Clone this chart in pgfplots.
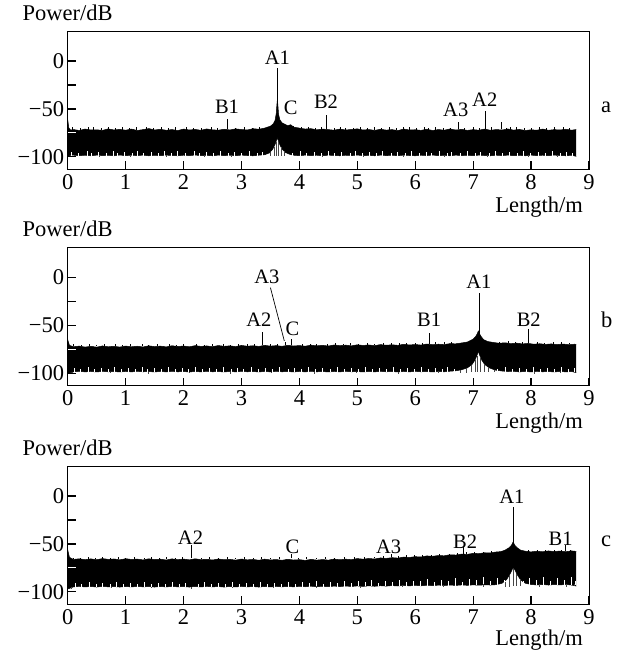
\documentclass[border=0pt]{standalone}
\usepackage{pgfplots}
\pgfplotsset{compat=1.18}
\usepgfplotslibrary{fillbetween}
\usepackage{fontspec}
\setmainfont{Liberation Serif}

\pgfplotsset{
  panel/.style={
    scale only axis, width=521.3pt, height=138.3pt,
    xmin=0, xmax=9, ymin=-113, ymax=31.3,
    xtick={0,1,2,3,4,5,6,7,8,9}, xticklabels={0,1,2,3,4,5,6,7,8,9},
    ytick={-100,-50,0}, yticklabels={−100,−50,0},
    minor ytick={-25},
    extra y ticks={-75}, extra y tick labels={},
    extra y tick style={tick style={white, line width=1.2pt}},
    tick align=inside, xtick pos=bottom, ytick pos=left,
    major tick length=8pt, minor tick length=8pt,
    every tick/.style={black, line width=1.2pt},
    axis line style={line width=0.9pt},
    ticklabel style={font=\fontsize{22.5}{24}\selectfont},
    xticklabel style={yshift=-1.5pt},
    axis on top, clip=false,
  },
  spk/.style={black, line width=0.8pt},
  env/.style={black, line width=0.5pt},
  % short vertical strokes: black hairs on the top edge, white gaps and grey hairs at the bottom
  grass/.style={draw=none, mark=none, forget plot,
    error bars/.cd, y dir=plus, y explicit, error mark=none,
    error bar style={draw=black, line width=0.6pt}},
  notch/.style={draw=none, mark=none, forget plot,
    error bars/.cd, y dir=plus, y explicit, error mark=none,
    error bar style={draw=white, line width=0.6pt}},
  fringe/.style={draw=none, mark=none, forget plot,
    error bars/.cd, y dir=minus, y explicit, error mark=none,
    error bar style={draw=gray!55!black, line width=0.6pt}},
}
\tikzset{
  lab/.style={font=\fontsize{20.5}{22}\selectfont, inner sep=0pt, anchor=center},
  axlab/.style={font=\fontsize{22.5}{24}\selectfont, inner sep=0pt},
}

\begin{document}
\begin{tikzpicture}

% ---------------- panel a ----------------
\begin{axis}[panel, at={(67.7pt,-31pt)}, anchor=north west]
\addplot[env, name path=ua] coordinates {
(0,-61) (0.02,-70) (0.05,-72) (0.1,-71.5) (0.2,-72.5) (0.3,-71) (0.4,-72) (0.5,-71.8) (0.6,-72.4) (0.7,-70.8)
(0.8,-72) (0.9,-71.3) (1.0,-72.2) (1.1,-71) (1.2,-72.5) (1.3,-71.6) (1.4,-70.5) (1.5,-72) (1.6,-71.2) (1.7,-72.3)
(1.8,-71.5) (1.9,-72.6) (2.0,-71) (2.1,-72) (2.2,-71.4) (2.3,-72.3) (2.4,-70.9) (2.5,-71.8) (2.6,-72.2) (2.7,-71.2)
(2.8,-71.9) (2.9,-70.8) (3.0,-71.5) (3.1,-72) (3.2,-70.6) (3.3,-71.2) (3.4,-70) (3.45,-69) (3.5,-68) (3.55,-65.5)
(3.58,-62) (3.6,-55) (3.61,-47) (3.62,-40) (3.63,-47) (3.64,-55) (3.66,-61) (3.7,-64.5) (3.75,-66) (3.8,-67.5)
(3.85,-66.5) (3.9,-69) (4.0,-70) (4.1,-71) (4.2,-70.6) (4.3,-71.8) (4.4,-71) (4.5,-71.6) (4.6,-72.2) (4.7,-71)
(4.8,-72) (4.9,-71.4) (5.0,-70.8) (5.1,-72) (5.2,-71.5) (5.3,-72.4) (5.4,-71.2) (5.5,-72.1) (5.6,-71.6) (5.7,-72.6)
(5.8,-71) (5.9,-72) (6.0,-71.7) (6.1,-72.4) (6.2,-71.2) (6.3,-72.5) (6.4,-71.5) (6.5,-72.2) (6.6,-70.9) (6.7,-72)
(6.8,-71.3) (6.9,-72.4) (7.0,-71.6) (7.1,-72.2) (7.2,-71) (7.3,-72.3) (7.4,-71.5) (7.5,-72) (7.6,-70.9) (7.7,-72.1)
(7.8,-71.4) (7.9,-72.5) (8.0,-71.8) (8.1,-72.2) (8.2,-71) (8.3,-72.3) (8.4,-71.6) (8.5,-72) (8.6,-71.2) (8.7,-72.2)
(8.78,-71.5)};
\addplot[env, name path=la] coordinates {
(0,-100) (0.03,-98.5) (0.1,-98.2) (0.2,-98.8) (0.3,-98.3) (0.4,-98.9) (0.5,-98.2) (0.6,-98.7) (0.7,-98.4) (0.8,-98.9)
(0.9,-98.1) (1.0,-98.8) (1.1,-98.3) (1.2,-98.7) (1.3,-98.2) (1.4,-98.9) (1.5,-98.4) (1.6,-98.8) (1.7,-98.2) (1.8,-98.6)
(1.9,-98.9) (2.0,-98.3) (2.1,-98.7) (2.2,-98.1) (2.3,-98.8) (2.4,-98.4) (2.5,-98.9) (2.6,-98.2) (2.7,-98.7) (2.8,-98.3)
(2.9,-98.8) (3.0,-98.2) (3.1,-98.6) (3.2,-98.9) (3.3,-98.3) (3.4,-97.8) (3.48,-96) (3.54,-92) (3.58,-87) (3.61,-82)
(3.62,-79) (3.63,-82) (3.66,-87) (3.7,-92) (3.76,-95.5) (3.84,-97.5) (3.9,-98.3) (4.0,-98.8) (4.1,-98.2) (4.2,-98.7)
(4.3,-98.3) (4.4,-98.9) (4.5,-98.2) (4.6,-98.6) (4.7,-98.9) (4.8,-98.3) (4.9,-98.7) (5.0,-98.1) (5.1,-98.8) (5.2,-98.4)
(5.3,-98.9) (5.4,-98.2) (5.5,-98.7) (5.6,-98.3) (5.7,-98.8) (5.8,-98.2) (5.9,-98.6) (6.0,-98.9) (6.1,-98.3) (6.2,-98.7)
(6.3,-98.1) (6.4,-98.8) (6.5,-98.4) (6.6,-98.9) (6.7,-98.2) (6.8,-98.7) (6.9,-98.3) (7.0,-98.8) (7.1,-98.2) (7.2,-98.6)
(7.3,-98.9) (7.4,-98.3) (7.5,-98.7) (7.6,-98.2) (7.7,-98.8) (7.8,-98.4) (7.9,-98.9) (8.0,-98.2) (8.1,-98.7) (8.2,-98.3)
(8.3,-98.8) (8.4,-98.2) (8.5,-98.6) (8.6,-98.9) (8.7,-98.3) (8.78,-99.5)};
\addplot[black] fill between[of=ua and la];
\addplot[grass] coordinates {
(0.08,-71.5) +- (0,2.5) (0.22,-71.5) +- (0,1.8) (0.35,-71.5) +- (0,2.2) (0.45,-71.5) +- (0,3) (0.58,-71.5) +- (0,1.6)
(0.7,-71.5) +- (0,2.4) (0.83,-71.5) +- (0,1.9) (0.95,-71.5) +- (0,2.6) (1.07,-71.5) +- (0,1.7) (1.18,-71.5) +- (0,2.2)
(1.35,-71.5) +- (0,2.8) (1.47,-71.5) +- (0,1.5) (1.62,-71.5) +- (0,2.3) (1.74,-71.5) +- (0,1.8) (1.86,-71.5) +- (0,2.5)
(2.05,-71.5) +- (0,3) (2.17,-71.5) +- (0,1.7) (2.3,-71.5) +- (0,2.1) (2.48,-71.5) +- (0,2.6) (2.58,-71.5) +- (0,1.6)
(2.9,-71.5) +- (0,2) (3.05,-71.5) +- (0,2.8) (3.18,-71.5) +- (0,1.9) (3.3,-71.5) +- (0,2.2) (3.9,-70) +- (0,2.4)
(4.03,-71) +- (0,1.8) (4.15,-71.5) +- (0,2.6) (4.28,-71.5) +- (0,1.7) (4.38,-71.5) +- (0,2.2) (4.6,-71.5) +- (0,1.9)
(4.7,-71.5) +- (0,2.5) (4.8,-71.5) +- (0,2.1) (4.93,-71.5) +- (0,1.6) (5.05,-71.5) +- (0,2.3) (5.18,-71.5) +- (0,1.8)
(5.3,-71.5) +- (0,3) (5.42,-71.5) +- (0,1.7) (5.55,-71.5) +- (0,2.2) (5.68,-71.5) +- (0,1.9) (5.8,-71.5) +- (0,2.4)
(5.9,-71.5) +- (0,2.2) (6.02,-71.5) +- (0,1.6) (6.15,-71.5) +- (0,2.5) (6.22,-71.5) +- (0,1.8) (6.35,-71.5) +- (0,2.6)
(6.48,-71.5) +- (0,1.7) (6.6,-71.5) +- (0,2.1) (6.85,-71.5) +- (0,1.8) (7.0,-71.5) +- (0,2.3) (7.1,-71.5) +- (0,1.6)
(7.32,-71.5) +- (0,2.4) (7.58,-71.5) +- (0,1.9) (7.65,-71.5) +- (0,2.2) (7.75,-71.5) +- (0,2.7) (7.88,-71.5) +- (0,1.6)
(8.0,-71.5) +- (0,2.1) (8.15,-71.5) +- (0,2.4) (8.27,-71.5) +- (0,1.7) (8.4,-71.5) +- (0,2.2) (8.55,-71.5) +- (0,2.6)
(8.66,-71.5) +- (0,1.8)};
\addplot[notch] coordinates {
(0.07,-99.2) +- (0,4.5) (0.19,-99.2) +- (0,3.2) (0.33,-99.2) +- (0,5.5) (0.41,-99.2) +- (0,2.8) (0.52,-99.2) +- (0,4.2)
(0.66,-99.2) +- (0,3.5) (0.78,-99.2) +- (0,5.8) (0.85,-99.2) +- (0,3) (0.97,-99.2) +- (0,4.6) (1.12,-99.2) +- (0,3.3)
(1.2,-99.2) +- (0,5.2) (1.31,-99.2) +- (0,2.9) (1.44,-99.2) +- (0,4.4) (1.57,-99.2) +- (0,3.6) (1.66,-99.2) +- (0,5.6)
(1.79,-99.2) +- (0,3.1) (1.9,-99.2) +- (0,4.8) (2.03,-99.2) +- (0,3.4) (2.18,-99.2) +- (0,5.3) (2.27,-99.2) +- (0,2.8)
(2.4,-99.2) +- (0,4.5) (2.52,-99.2) +- (0,3.7) (2.64,-99.2) +- (0,5.5) (2.78,-99.2) +- (0,3.2) (2.88,-99.2) +- (0,4.3)
(2.99,-99.2) +- (0,3.5) (3.13,-99.2) +- (0,5.1) (3.27,-99.2) +- (0,3) (3.36,-99.2) +- (0,4.2) (3.88,-99.2) +- (0,3.3)
(4.02,-99.2) +- (0,5) (4.12,-99.2) +- (0,3.1) (4.26,-99.2) +- (0,4.7) (4.37,-99.2) +- (0,3.4) (4.5,-99.2) +- (0,5.6)
(4.61,-99.2) +- (0,2.9) (4.73,-99.2) +- (0,4.4) (4.88,-99.2) +- (0,3.6) (4.97,-99.2) +- (0,5.3) (5.08,-99.2) +- (0,3.1)
(5.21,-99.2) +- (0,4.6) (5.32,-99.2) +- (0,3.3) (5.44,-99.2) +- (0,5.5) (5.58,-99.2) +- (0,3) (5.69,-99.2) +- (0,4.3)
(5.83,-99.2) +- (0,3.7) (5.94,-99.2) +- (0,5.2) (6.07,-99.2) +- (0,3.2) (6.19,-99.2) +- (0,4.5) (6.28,-99.2) +- (0,3.4)
(6.42,-99.2) +- (0,5.7) (6.55,-99.2) +- (0,2.9) (6.63,-99.2) +- (0,4.6) (6.77,-99.2) +- (0,3.5) (6.9,-99.2) +- (0,5.1)
(7.03,-99.2) +- (0,3.3) (7.12,-99.2) +- (0,4.4) (7.28,-99.2) +- (0,3.6) (7.38,-99.2) +- (0,5.4) (7.5,-99.2) +- (0,3)
(7.63,-99.2) +- (0,4.7) (7.77,-99.2) +- (0,3.2) (7.86,-99.2) +- (0,5.3) (7.99,-99.2) +- (0,3.4) (8.12,-99.2) +- (0,4.5)
(8.24,-99.2) +- (0,3.1) (8.36,-99.2) +- (0,5.6) (8.5,-99.2) +- (0,3.3) (8.6,-99.2) +- (0,4.4) (8.72,-99.2) +- (0,3.7)};
\addplot[fringe] coordinates {
(0.12,-98.5) +- (0,1.8) (0.55,-98.5) +- (0,2) (1.08,-98.5) +- (0,1.6) (1.7,-98.5) +- (0,2) (2.35,-98.5) +- (0,1.7)
(2.82,-98.5) +- (0,2) (3.5,-95) +- (0,4.5) (3.56,-90) +- (0,9) (3.6,-84) +- (0,15.5) (3.64,-84) +- (0,15)
(3.68,-90) +- (0,9.2) (3.74,-94) +- (0,5.3) (4.4,-98.5) +- (0,1.8) (5.1,-98.5) +- (0,2) (5.8,-98.5) +- (0,1.6)
(6.5,-98.5) +- (0,2) (7.25,-98.5) +- (0,1.7) (7.95,-98.5) +- (0,2) (8.45,-98.5) +- (0,1.8)};
% labelled peaks
\addplot[spk] coordinates {(2.75,-71) (2.75,-60)};
\addplot[spk] coordinates {(3.62,-45) (3.62,-7.7)};
\addplot[spk] coordinates {(4.47,-71) (4.47,-56.5)};
\addplot[spk] coordinates {(6.75,-71) (6.75,-63.8)};
\addplot[spk] coordinates {(7.22,-71) (7.22,-52)};
\addplot[spk] coordinates {(7.48,-71) (7.48,-63.8)};
\node[lab] at (axis cs:3.62,3.7) {A1};
\node[lab] at (axis cs:2.75,-47.8) {B1};
\node[lab] at (axis cs:3.85,-48.5) {C};
\node[lab] at (axis cs:4.46,-42.5) {B2};
\node[lab] at (axis cs:6.70,-50.7) {A3};
\node[lab] at (axis cs:7.20,-40) {A2};
\node[axlab, anchor=base] at (axis description cs:0,1) [yshift=10.5pt] {Power/dB};
\node[axlab, anchor=base east] at (axis description cs:1,0) [xshift=-6pt, yshift=-43.5pt] {Length/m};
\node[axlab, anchor=base west] at (axis description cs:1,0.41) [xshift=12pt] {a};
\end{axis}

% ---------------- panel b ----------------
\begin{axis}[panel, at={(67.7pt,-247.3pt)}, anchor=north west]
\addplot[env, name path=ub] coordinates {
(0,-65) (0.03,-71) (0.1,-72.4) (0.2,-71.8) (0.3,-72.8) (0.4,-72) (0.5,-72.9) (0.6,-71.6) (0.7,-72.5) (0.8,-72)
(0.9,-72.8) (1.0,-71.7) (1.1,-72.5) (1.2,-71.9) (1.3,-72.7) (1.4,-71.5) (1.5,-72.3) (1.6,-71.8) (1.7,-72.6) (1.8,-71.4)
(1.9,-72.2) (2.0,-71.7) (2.1,-72.5) (2.2,-71.3) (2.3,-72.1) (2.4,-71.6) (2.5,-72.4) (2.6,-71.2) (2.7,-72) (2.8,-71.5)
(2.9,-72.3) (3.0,-71.1) (3.1,-71.9) (3.2,-71.4) (3.3,-72.1) (3.4,-71) (3.5,-71.8) (3.6,-71.3) (3.7,-72) (3.8,-70.9)
(3.9,-71.7) (4.0,-71.2) (4.1,-71.9) (4.2,-70.8) (4.3,-71.5) (4.4,-71) (4.5,-71.7) (4.6,-70.6) (4.7,-71.3) (4.8,-70.8)
(4.9,-71.5) (5.0,-70.4) (5.1,-71.1) (5.2,-70.6) (5.3,-71.3) (5.4,-70.2) (5.5,-70.9) (5.6,-70.4) (5.7,-71) (5.8,-69.9)
(5.9,-70.6) (6.0,-70.1) (6.1,-70.7) (6.2,-69.6) (6.3,-70.3) (6.4,-69.8) (6.5,-70.2) (6.6,-69.2) (6.7,-69.4) (6.8,-68.5)
(6.9,-67.5) (6.95,-66) (7.0,-64.5) (7.04,-62) (7.07,-59) (7.09,-56) (7.11,-59) (7.14,-62) (7.18,-65) (7.25,-67)
(7.35,-68) (7.45,-68.8) (7.55,-68.3) (7.65,-69.2) (7.75,-68.7) (7.85,-69.5) (7.95,-69) (8.05,-69.8) (8.15,-69.3) (8.25,-70)
(8.35,-69.5) (8.45,-70.2) (8.55,-69.6) (8.65,-70.3) (8.75,-69.8) (8.78,-70.2)};
\addplot[env, name path=lb] coordinates {
(0,-100.5) (0.05,-99.5) (0.1,-98.6) (0.2,-98.1) (0.3,-98.7) (0.4,-98.2) (0.5,-98.8) (0.6,-98.1) (0.7,-98.6) (0.8,-98.3)
(0.9,-98.8) (1.0,-98.2) (1.1,-98.7) (1.2,-98.1) (1.3,-98.6) (1.4,-98.3) (1.5,-98.8) (1.6,-98.2) (1.7,-98.7) (1.8,-98.1)
(1.9,-98.6) (2.0,-98.3) (2.1,-98.8) (2.2,-98.2) (2.3,-98.7) (2.4,-98.1) (2.5,-98.6) (2.6,-98.3) (2.7,-98.8) (2.8,-98.2)
(2.9,-98.7) (3.0,-98.1) (3.1,-98.6) (3.2,-98.3) (3.3,-98.8) (3.4,-98.2) (3.5,-98.7) (3.6,-98.1) (3.7,-98.6) (3.8,-98.3)
(3.9,-98.8) (4.0,-98.2) (4.1,-98.7) (4.2,-98.1) (4.3,-98.6) (4.4,-98.3) (4.5,-98.8) (4.6,-98.2) (4.7,-98.7) (4.8,-98.1)
(4.9,-98.6) (5.0,-98.3) (5.1,-98.8) (5.2,-98.2) (5.3,-98.7) (5.4,-98.1) (5.5,-98.6) (5.6,-98.3) (5.7,-98.8) (5.8,-98.2)
(5.9,-98.7) (6.0,-98.1) (6.1,-98.6) (6.2,-98.3) (6.3,-98.8) (6.4,-98.2) (6.5,-98.6) (6.6,-98) (6.7,-97.5) (6.8,-96.5)
(6.9,-94.5) (6.98,-91) (7.03,-86.5) (7.07,-81) (7.09,-77) (7.11,-81) (7.15,-86.5) (7.2,-91) (7.28,-94.5) (7.38,-96.8)
(7.5,-97.8) (7.6,-98.3) (7.7,-98.1) (7.8,-98.7) (7.9,-98.2) (8.0,-98.8) (8.1,-98.1) (8.2,-98.6) (8.3,-98.3) (8.4,-98.8)
(8.5,-98.2) (8.6,-98.7) (8.7,-98.3) (8.78,-99.5)};
\addplot[black] fill between[of=ub and lb];
\addplot[grass] coordinates {
(0.1,-72) +- (0,2) (0.24,-72) +- (0,1.6) (0.38,-72) +- (0,2.4) (0.5,-72) +- (0,1.8) (0.64,-72) +- (0,2.2)
(0.82,-72) +- (0,2.5) (0.95,-72) +- (0,1.6) (1.08,-72) +- (0,2.1) (1.28,-72) +- (0,2.6) (1.4,-72) +- (0,1.7)
(1.55,-72) +- (0,2.2) (1.75,-72) +- (0,2.4) (1.88,-72) +- (0,1.6) (2.0,-72) +- (0,2) (2.22,-72) +- (0,2.5)
(2.35,-72) +- (0,1.8) (2.5,-72) +- (0,2.1) (2.68,-72) +- (0,2.7) (2.8,-72) +- (0,1.6) (2.95,-72) +- (0,2.2)
(3.1,-71.5) +- (0,2.4) (3.22,-71.5) +- (0,1.7) (3.5,-71.5) +- (0,2) (3.62,-71.5) +- (0,1.8) (4.05,-71.5) +- (0,2.3)
(4.18,-71.5) +- (0,1.7) (4.3,-71.5) +- (0,2.1) (4.48,-71.5) +- (0,1.9) (4.62,-71) +- (0,2.5) (4.75,-71) +- (0,1.6)
(4.88,-71) +- (0,2.2) (5.02,-71) +- (0,1.8) (5.18,-71) +- (0,2.6) (5.3,-71) +- (0,1.7) (5.45,-71) +- (0,2.1)
(5.58,-70.5) +- (0,1.8) (5.72,-70.5) +- (0,2.4) (5.85,-70.5) +- (0,1.7) (6.0,-70.5) +- (0,2.2) (6.12,-70.5) +- (0,1.9)
(6.35,-70) +- (0,2.3) (6.5,-70) +- (0,2.1) (6.62,-69.5) +- (0,1.7) (7.45,-69) +- (0,1.9) (7.6,-69) +- (0,2.3)
(7.72,-69) +- (0,1.7) (7.85,-69.5) +- (0,2.1) (8.1,-70) +- (0,2.4) (8.22,-70) +- (0,1.6) (8.38,-70) +- (0,2)
(8.52,-70) +- (0,2.2) (8.66,-70) +- (0,1.8)};
\addplot[notch] coordinates {
(0.12,-99) +- (0,4.8) (0.22,-99) +- (0,3.2) (0.35,-99) +- (0,5.5) (0.46,-99) +- (0,3) (0.58,-99) +- (0,4.3)
(0.7,-99) +- (0,3.6) (0.81,-99) +- (0,5.4) (0.93,-99) +- (0,3.1) (1.05,-99) +- (0,4.7) (1.16,-99) +- (0,3.3)
(1.29,-99) +- (0,5.6) (1.38,-99) +- (0,2.9) (1.5,-99) +- (0,4.4) (1.62,-99) +- (0,3.5) (1.74,-99) +- (0,5.2)
(1.85,-99) +- (0,3.2) (1.97,-99) +- (0,4.6) (2.09,-99) +- (0,3.4) (2.21,-99) +- (0,5.5) (2.32,-99) +- (0,3)
(2.45,-99) +- (0,4.2) (2.57,-99) +- (0,3.7) (2.69,-99) +- (0,5.3) (2.82,-99) +- (0,3.1) (2.93,-99) +- (0,4.5)
(3.04,-99) +- (0,3.3) (3.17,-99) +- (0,5.4) (3.29,-99) +- (0,3) (3.41,-99) +- (0,4.4) (3.53,-99) +- (0,3.6)
(3.66,-99) +- (0,5.1) (3.8,-99) +- (0,3.2) (3.92,-99) +- (0,4.7) (4.04,-99) +- (0,3.4) (4.16,-99) +- (0,5.6)
(4.28,-99) +- (0,3) (4.4,-99) +- (0,4.5) (4.53,-99) +- (0,3.5) (4.65,-99) +- (0,5.3) (4.77,-99) +- (0,3.1)
(4.9,-99) +- (0,4.6) (5.01,-99) +- (0,3.4) (5.13,-99) +- (0,5.5) (5.26,-99) +- (0,3) (5.38,-99) +- (0,4.3)
(5.5,-99) +- (0,3.7) (5.62,-99) +- (0,5.2) (5.75,-99) +- (0,3.2) (5.87,-99) +- (0,4.6) (5.99,-99) +- (0,3.5)
(6.11,-99) +- (0,5.6) (6.23,-99) +- (0,3.1) (6.35,-99) +- (0,4.5) (6.46,-99) +- (0,3.4) (6.56,-99) +- (0,5)
(6.68,-99) +- (0,3.8) (7.42,-99) +- (0,3.5) (7.56,-99) +- (0,5.2) (7.68,-99) +- (0,3.1) (7.8,-99) +- (0,4.6)
(7.92,-99) +- (0,3.4) (8.04,-99) +- (0,5.5) (8.16,-99) +- (0,3) (8.28,-99) +- (0,4.4) (8.4,-99) +- (0,3.6)
(8.52,-99) +- (0,5.3) (8.64,-99) +- (0,3.2) (8.74,-99) +- (0,4.5)};
\addplot[fringe] coordinates {
(0.08,-98.5) +- (0,2) (0.73,-98.5) +- (0,1.6) (1.4,-98.5) +- (0,2) (2.1,-98.5) +- (0,1.7) (2.8,-98.5) +- (0,1.9)
(3.52,-98.5) +- (0,1.6) (4.25,-98.5) +- (0,2) (4.98,-98.5) +- (0,1.7) (5.7,-98.5) +- (0,1.9) (6.4,-98.5) +- (0,1.6)
(6.78,-96.5) +- (0,3) (6.88,-94.5) +- (0,5) (6.96,-91) +- (0,8) (7.03,-86.5) +- (0,12.5) (7.07,-82) +- (0,16.5)
(7.13,-83) +- (0,16) (7.19,-90) +- (0,9) (7.26,-94) +- (0,5) (7.36,-96.5) +- (0,2.5) (8.05,-98.5) +- (0,2)
(8.5,-98.5) +- (0,1.7)};
\addplot[spk] coordinates {(3.36,-71) (3.36,-57.3)};
\addplot[spk] coordinates {(3.75,-71) (3.75,-67)};
\addplot[spk] coordinates {(3.87,-71) (3.87,-64.6)};
\addplot[spk] coordinates {(6.24,-69.5) (6.24,-57.7)};
\addplot[spk] coordinates {(7.10,-60) (7.10,-16)};
\addplot[spk] coordinates {(7.96,-68.5) (7.96,-53.5)};
\draw[black, line width=0.7pt] (axis cs:3.50,-10.8) -- (axis cs:3.74,-66.4);
\node[lab] at (axis cs:3.44,1.0) {A3};
\node[lab] at (axis cs:3.30,-44.2) {A2};
\node[lab] at (axis cs:3.88,-53.7) {C};
\node[lab] at (axis cs:6.24,-44.8) {B1};
\node[lab] at (axis cs:7.10,-5.1) {A1};
\node[lab] at (axis cs:7.96,-44.2) {B2};
\node[axlab, anchor=base] at (axis description cs:0,1) [yshift=10.5pt] {Power/dB};
\node[axlab, anchor=base east] at (axis description cs:1,0) [xshift=-6pt, yshift=-42.5pt] {Length/m};
\node[axlab, anchor=base west] at (axis description cs:1,0.42) [xshift=12pt] {b};
\end{axis}

% ---------------- panel c ----------------
\begin{axis}[panel, at={(67.7pt,-466pt)}, anchor=north west]
\addplot[env, name path=uc] coordinates {
(0,-56) (0.03,-64) (0.1,-66.2) (0.2,-65.5) (0.3,-66.4) (0.4,-65.6) (0.5,-66.5) (0.6,-65.3) (0.7,-66.1) (0.8,-65.7)
(0.9,-66.6) (1.0,-65.4) (1.1,-66.2) (1.2,-65.8) (1.3,-66.7) (1.4,-65.5) (1.5,-66.3) (1.6,-65.9) (1.7,-66.8) (1.8,-65.6)
(1.9,-66.4) (2.0,-65.8) (2.1,-66.6) (2.2,-65.5) (2.3,-66.4) (2.4,-66) (2.5,-66.8) (2.6,-65.7) (2.7,-66.5) (2.8,-66.1)
(2.9,-66.9) (3.0,-65.8) (3.1,-66.6) (3.2,-66.2) (3.3,-67) (3.4,-65.9) (3.5,-66.7) (3.6,-66.3) (3.7,-67.1) (3.8,-66)
(3.9,-66.8) (4.0,-66.4) (4.1,-67.2) (4.2,-66.1) (4.3,-66.9) (4.4,-66.3) (4.5,-66.9) (4.6,-65.8) (4.7,-66.5) (4.8,-65.9)
(4.9,-66.4) (5.0,-65.3) (5.1,-65.9) (5.2,-65.2) (5.3,-65.7) (5.4,-64.6) (5.5,-65.1) (5.6,-64.3) (5.7,-64.8) (5.8,-63.7)
(5.9,-64.1) (6.0,-63.3) (6.1,-63.6) (6.2,-62.5) (6.3,-62.9) (6.4,-62.1) (6.5,-62.4) (6.6,-61.3) (6.7,-61.6) (6.8,-60.6)
(6.9,-60.9) (7.0,-59.8) (7.1,-60.1) (7.2,-59.2) (7.3,-59.3) (7.4,-58.4) (7.48,-58) (7.55,-56.5) (7.62,-54) (7.66,-51.5)
(7.69,-48) (7.72,-51.5) (7.76,-54) (7.82,-56.5) (7.9,-57.6) (8.0,-58.3) (8.1,-57.6) (8.2,-58.2) (8.3,-57.3) (8.4,-58)
(8.5,-57.4) (8.6,-58.1) (8.7,-57.3) (8.78,-57.8)};
\addplot[env, name path=lc] coordinates {
(0,-97) (0.05,-96) (0.1,-94.8) (0.2,-94.3) (0.3,-94.9) (0.4,-94.4) (0.5,-95) (0.6,-94.3) (0.7,-94.8) (0.8,-94.5)
(0.9,-95) (1.0,-94.4) (1.1,-94.9) (1.2,-94.3) (1.3,-94.8) (1.4,-94.5) (1.5,-95) (1.6,-94.4) (1.7,-94.9) (1.8,-94.3)
(1.9,-94.8) (2.0,-94.5) (2.1,-95) (2.2,-94.4) (2.3,-94.9) (2.4,-94.3) (2.5,-94.8) (2.6,-94.5) (2.7,-95) (2.8,-94.4)
(2.9,-94.9) (3.0,-94.3) (3.1,-94.8) (3.2,-94.5) (3.3,-95) (3.4,-94.4) (3.5,-94.9) (3.6,-94.3) (3.7,-94.8) (3.8,-94.4)
(3.9,-94.8) (4.0,-94.2) (4.1,-94.7) (4.2,-94.1) (4.3,-94.6) (4.4,-94.2) (4.5,-94.6) (4.6,-94) (4.7,-94.5) (4.8,-93.9)
(4.9,-94.4) (5.0,-93.8) (5.1,-94.3) (5.2,-93.7) (5.3,-94.2) (5.4,-93.6) (5.5,-94) (5.6,-93.5) (5.7,-93.9) (5.8,-93.3)
(5.9,-93.8) (6.0,-93.2) (6.1,-93.7) (6.2,-93.1) (6.3,-93.5) (6.4,-93) (6.5,-93.4) (6.6,-92.9) (6.7,-93.3) (6.8,-92.8)
(6.9,-93.2) (7.0,-92.7) (7.1,-93.1) (7.2,-92.6) (7.3,-92.9) (7.4,-92.5) (7.5,-91) (7.58,-87) (7.64,-81) (7.68,-76)
(7.7,-75) (7.72,-77) (7.76,-82) (7.82,-87.5) (7.9,-91) (8.0,-92.3) (8.1,-92.8) (8.2,-92.3) (8.3,-92.9) (8.4,-92.4)
(8.5,-92.8) (8.6,-92.3) (8.7,-92.9) (8.78,-94)};
\addplot[black] fill between[of=uc and lc];
\addplot[grass] coordinates {
(0.1,-66) +- (0,1.8) (0.22,-66) +- (0,1.5) (0.35,-66) +- (0,2.1) (0.48,-66) +- (0,1.6) (0.6,-66) +- (0,2.3)
(0.74,-66) +- (0,1.7) (0.88,-66) +- (0,2) (1.0,-66) +- (0,1.5) (1.15,-66) +- (0,2.2) (1.32,-66) +- (0,1.8)
(1.45,-66) +- (0,2.4) (1.58,-66) +- (0,1.6) (1.7,-66) +- (0,2) (1.85,-66) +- (0,1.7) (1.98,-66) +- (0,2.3)
(2.3,-66) +- (0,1.6) (2.45,-66) +- (0,2.1) (2.6,-66) +- (0,1.8) (2.75,-66) +- (0,2.4) (2.9,-66) +- (0,1.6)
(3.05,-66) +- (0,2) (3.2,-66) +- (0,1.7) (3.35,-66) +- (0,2.3) (3.5,-66) +- (0,1.6) (3.65,-66) +- (0,2)
(3.98,-66) +- (0,1.8) (4.12,-66) +- (0,2.2) (4.3,-66) +- (0,1.6) (4.45,-66) +- (0,2) (4.6,-66) +- (0,1.8)
(4.78,-65.8) +- (0,2.3) (4.95,-65.5) +- (0,1.7) (5.12,-65.3) +- (0,2.1) (5.3,-65) +- (0,1.8) (5.45,-65) +- (0,2.2)
(5.7,-64.5) +- (0,1.7) (5.85,-64.2) +- (0,2.3) (5.98,-63.8) +- (0,1.9) (6.12,-63.3) +- (0,2.2) (6.28,-62.8) +- (0,1.7)
(6.42,-62.3) +- (0,2.3) (6.58,-61.8) +- (0,1.8) (6.72,-61.3) +- (0,2.1) (6.88,-60.8) +- (0,1.9) (7.02,-60.3) +- (0,2.2)
(7.18,-59.8) +- (0,1.7) (7.32,-59.3) +- (0,2.1) (7.95,-58.5) +- (0,1.8) (8.1,-58.2) +- (0,2.3) (8.25,-58.2) +- (0,1.7)
(8.4,-58.3) +- (0,2) (8.52,-58) +- (0,1.6) (8.68,-58) +- (0,2.1)};
\addplot[notch] coordinates {
(0.13,-95) +- (0,4.5) (0.24,-95) +- (0,3) (0.37,-95) +- (0,5.3) (0.49,-95) +- (0,2.8) (0.6,-95) +- (0,4.4)
(0.73,-95) +- (0,3.4) (0.84,-95) +- (0,5.5) (0.96,-95) +- (0,3) (1.08,-95) +- (0,4.6) (1.2,-95) +- (0,3.2)
(1.33,-95) +- (0,5.2) (1.44,-95) +- (0,2.9) (1.56,-95) +- (0,4.3) (1.68,-95) +- (0,3.6) (1.8,-95) +- (0,5.4)
(1.92,-95) +- (0,3.1) (2.03,-95) +- (0,4.7) (2.25,-95) +- (0,3.3) (2.36,-95) +- (0,5.5) (2.48,-95) +- (0,3)
(2.6,-95) +- (0,4.4) (2.72,-95) +- (0,3.5) (2.84,-95) +- (0,5.3) (2.96,-95) +- (0,3.1) (3.08,-95) +- (0,4.6)
(3.2,-95) +- (0,3.4) (3.33,-95) +- (0,5.6) (3.45,-95) +- (0,3) (3.57,-95) +- (0,4.5) (3.69,-95) +- (0,3.6)
(3.8,-95) +- (0,5.2) (3.93,-95) +- (0,3.2) (4.05,-94.5) +- (0,4.8) (4.17,-94.5) +- (0,3.5) (4.29,-94.5) +- (0,5.6)
(4.41,-94.5) +- (0,3.1) (4.53,-94.5) +- (0,4.6) (4.65,-94.5) +- (0,3.7) (4.77,-94.5) +- (0,5.8) (4.89,-94.5) +- (0,3.3)
(5.01,-94) +- (0,5) (5.13,-94) +- (0,3.8) (5.25,-94) +- (0,6.2) (5.37,-94) +- (0,3.5) (5.49,-94) +- (0,5.4)
(5.61,-94) +- (0,4) (5.73,-94) +- (0,6.5) (5.85,-94) +- (0,3.8) (5.97,-94) +- (0,5.8) (6.09,-93.5) +- (0,4.3)
(6.21,-93.5) +- (0,7) (6.33,-93.5) +- (0,4) (6.45,-93.5) +- (0,6.2) (6.57,-93.5) +- (0,4.6) (6.69,-93.5) +- (0,7.5)
(6.81,-93.5) +- (0,4.2) (6.93,-93.5) +- (0,6.6) (7.05,-93) +- (0,5) (7.17,-93) +- (0,8) (7.29,-93) +- (0,4.5)
(7.41,-93) +- (0,7) (7.53,-93) +- (0,5) (7.86,-93) +- (0,4.5) (7.97,-93) +- (0,7.5) (8.09,-93) +- (0,5.2)
(8.21,-93) +- (0,8.5) (8.33,-93) +- (0,4.8) (8.45,-93) +- (0,7.2) (8.57,-93) +- (0,5.5) (8.69,-93) +- (0,8)
(8.76,-93) +- (0,4.6)};
\addplot[fringe] coordinates {
(0.06,-94.5) +- (0,2.5) (0.75,-94.5) +- (0,1.6) (1.45,-94.5) +- (0,1.9) (2.14,-94.5) +- (0,2.4) (2.85,-94.5) +- (0,1.6)
(3.55,-94.5) +- (0,1.9) (4.3,-94) +- (0,1.7) (5.05,-93.5) +- (0,2) (5.78,-93) +- (0,2.2) (6.48,-92.5) +- (0,2.5)
(7.18,-92) +- (0,2.6) (7.55,-90) +- (0,5) (7.63,-82) +- (0,12.5) (7.69,-76) +- (0,18) (7.75,-81) +- (0,13)
(7.82,-87) +- (0,6.5) (8.15,-92) +- (0,2.8) (8.6,-92) +- (0,2.6) (8.74,-92) +- (0,2.4)};
\addplot[spk] coordinates {(2.14,-65) (2.14,-51.2)};
\addplot[spk] coordinates {(3.86,-65) (3.86,-61)};
\addplot[spk] coordinates {(5.58,-64) (5.58,-60.6)};
\addplot[spk] coordinates {(6.83,-60) (6.83,-52)};
\addplot[spk] coordinates {(7.70,-52) (7.70,-11.2)};
\addplot[spk] coordinates {(8.59,-57) (8.59,-51.2)};
\node[lab] at (axis cs:2.12,-43) {A2};
\node[lab] at (axis cs:3.88,-53.1) {C};
\node[lab] at (axis cs:5.54,-53.5) {A3};
\node[lab] at (axis cs:6.86,-47.4) {B2};
\node[lab] at (axis cs:7.67,-1.2) {A1};
\node[lab] at (axis cs:8.51,-44.6) {B1};
\node[axlab, anchor=base] at (axis description cs:0,1) [yshift=10.5pt] {Power/dB};
\node[axlab, anchor=base east] at (axis description cs:1,0) [xshift=-6pt, yshift=-41.5pt] {Length/m};
\node[axlab, anchor=base west] at (axis description cs:1,0.417) [xshift=12pt] {c};
\end{axis}

\pgfresetboundingbox
\path (0pt,0pt) rectangle (623pt,-657pt);
\end{tikzpicture}
\end{document}
